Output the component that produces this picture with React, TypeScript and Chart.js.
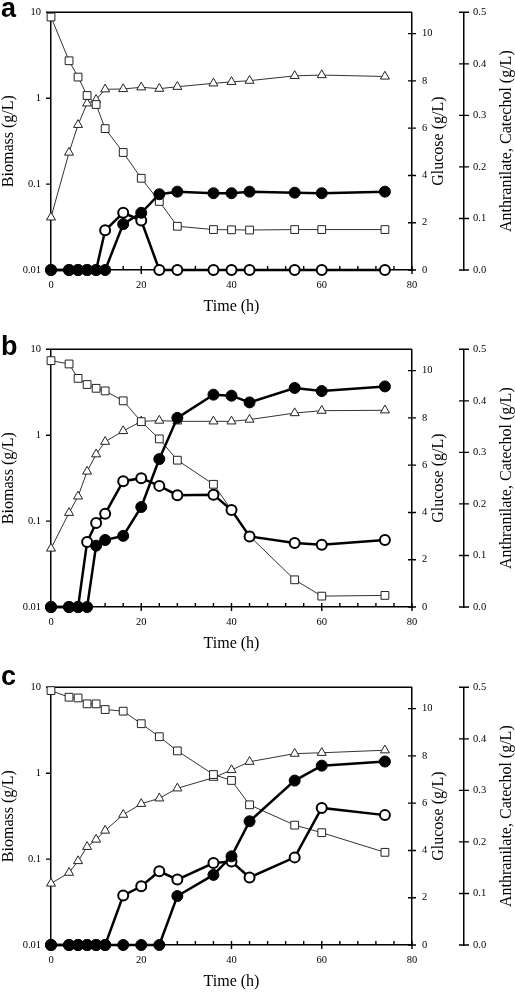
import React, { useEffect, useRef } from "react";
import { Chart, registerables } from "chart.js";

Chart.register(...registerables);

// ---------- data ----------
const timeHours = [0, 4, 6, 8, 10, 12, 16, 20, 24, 28, 36, 40, 44, 54, 60, 74];

// panel a
const biomassA = [0.041, 0.233, 0.49, 0.87, 0.96, 1.27, 1.28, 1.34, 1.29, 1.36, 1.49, 1.55, 1.6, 1.82, 1.86, 1.79];
const glucoseA = [10.7, 8.85, 8.16, 7.38, 7.0, 5.98, 4.97, 3.88, 2.9, 1.85, 1.71, 1.7, 1.69, 1.71, 1.71, 1.71];
const anthranilateA = [0, 0, 0, 0, 0, 0, 0.089, 0.111, 0.147, 0.152, 0.149, 0.149, 0.152, 0.15, 0.149, 0.152];
const catecholA = [0, 0, 0, 0, 0, 0.077, 0.111, 0.096, 0, 0, 0, 0, 0, 0, 0, 0];

// panel b
const biomassB = [0.048, 0.125, 0.194, 0.378, 0.6, 0.84, 1.12, 1.45, 1.48, 1.45, 1.45, 1.45, 1.52, 1.81, 1.93, 1.95];
const glucoseB = [10.42, 10.28, 9.67, 9.41, 9.25, 9.14, 8.72, 7.84, 7.11, 6.21, 5.19, 4.1, 3.0, 1.15, 0.46, 0.49];
const anthranilateB = [0, 0, 0, 0, 0.119, 0.13, 0.138, 0.194, 0.287, 0.367, 0.412, 0.41, 0.397, 0.425, 0.419, 0.428];
const catecholB = [0, 0, 0, 0.126, 0.163, 0.181, 0.244, 0.25, 0.235, 0.217, 0.218, 0.188, 0.137, 0.124, 0.121, 0.13];

// panel c
const biomassC = [0.052, 0.0695, 0.095, 0.139, 0.169, 0.215, 0.329, 0.44, 0.51, 0.667, 0.887, 1.09, 1.36, 1.69, 1.73, 1.85];
const glucoseC = [10.76, 10.48, 10.45, 10.2, 10.2, 9.96, 9.89, 9.36, 8.81, 8.21, 7.21, 6.96, 5.93, 5.07, 4.75, 3.92];
const anthranilateC = [0, 0, 0, 0, 0, 0, 0, 0, 0, 0.095, 0.136, 0.172, 0.24, 0.319, 0.348, 0.356];
const catecholC = [0, 0, 0, 0, 0, 0, 0.096, 0.114, 0.143, 0.127, 0.159, 0.162, 0.131, 0.17, 0.266, 0.252];

const biomassTicks = [0.01, 0.1, 1, 10];
const panelLetters = ["a", "b", "c"];

const SERIF = "'Liberation Serif', 'Times New Roman', serif";

// ---------- helpers ----------
function pts(arr: number[]) {
  return timeHours.map((t, i) => ({ x: t, y: arr[i] }));
}

function makeDatasets(bio: number[], glu: number[], anth: number[], cat: number[]) {
  return [
    {
      label: "Anthranilate",
      data: pts(anth),
      yAxisID: "yA",
      order: 0,
      borderColor: "#000",
      backgroundColor: "#000",
      borderWidth: 2.5,
      pointStyle: "circle",
      pointRadius: 5.5,
      pointBorderWidth: 1,
      pointBackgroundColor: "#000",
      pointBorderColor: "#000",
      clip: false,
    },
    {
      label: "Catechol",
      data: pts(cat),
      yAxisID: "yA",
      order: 1,
      borderColor: "#000",
      backgroundColor: "#fff",
      borderWidth: 2.5,
      pointStyle: "circle",
      pointRadius: 5,
      pointBorderWidth: 2,
      pointBackgroundColor: "#fff",
      pointBorderColor: "#000",
      clip: false,
    },
    {
      label: "Glucose",
      data: pts(glu),
      yAxisID: "yG",
      order: 2,
      borderColor: "#333",
      backgroundColor: "#fff",
      borderWidth: 1,
      pointStyle: "rect",
      pointRadius: 5.5,
      pointBorderWidth: 1,
      pointBackgroundColor: "#fff",
      pointBorderColor: "#222",
      clip: false,
    },
    {
      label: "Biomass",
      data: pts(bio),
      yAxisID: "yB",
      order: 3,
      borderColor: "#333",
      backgroundColor: "#fff",
      borderWidth: 1,
      pointStyle: "triangle",
      pointRadius: 5.2,
      pointBorderWidth: 1,
      pointBackgroundColor: "#fff",
      pointBorderColor: "#222",
      clip: false,
    },
  ];
}

const decorPlugin = {
  id: "decor",
  beforeDatasetsDraw(chart: any) {
    const { ctx, chartArea: ca, scales } = chart;
    const x = scales.x, yB = scales.yB, yG = scales.yG, yA = scales.yA;
    ctx.save();
    ctx.strokeStyle = "#000";
    ctx.lineWidth = 1.4;
    ctx.beginPath();
    ctx.moveTo(ca.left, ca.top);
    ctx.lineTo(ca.right, ca.top);
    x.ticks.forEach((t: any) => {
      const px = x.getPixelForValue(t.value);
      if (Math.round(t.value) % 20 === 0) {
        ctx.moveTo(px, ca.bottom - 4);
        ctx.lineTo(px, ca.bottom + 4);
      } else {
        ctx.moveTo(px, ca.bottom - 4);
        ctx.lineTo(px, ca.bottom);
      }
    });
    yB.ticks.forEach((t: any) => {
      const py = yB.getPixelForValue(t.value);
      ctx.moveTo(ca.left - 5, py);
      ctx.lineTo(ca.left, py);
    });
    yG.ticks.forEach((t: any) => {
      const py = yG.getPixelForValue(t.value);
      ctx.moveTo(yG.left - 4, py);
      ctx.lineTo(yG.left + 4, py);
    });
    yA.ticks.forEach((t: any) => {
      const py = yA.getPixelForValue(t.value);
      ctx.moveTo(yA.left - 5, py);
      ctx.lineTo(yA.left + 5, py);
    });
    ctx.stroke();
    ctx.restore();
  },
  afterDraw(chart: any) {
    const { ctx, chartArea: ca, scales } = chart;
    const yB = scales.yB, yG = scales.yG, yA = scales.yA;
    ctx.save();
    ctx.fillStyle = "#000";
    ctx.font = `16px ${SERIF}`;
    ctx.textAlign = "center";
    ctx.textBaseline = "middle";
    const midY = (ca.top + ca.bottom) / 2;
    const vtitle = (text: string, cx: number) => {
      ctx.save();
      ctx.translate(cx, midY);
      ctx.rotate(-Math.PI / 2);
      ctx.fillText(text, 0, 0);
      ctx.restore();
    };
    vtitle("Biomass (g/L)", yB.left + 9);
    vtitle("Glucose (g/L)", yG.left + 27);
    vtitle("Anthranilate, Catechol (g/L)", yA.left + 43);
    ctx.fillText("Time (h)", (ca.left + ca.right) / 2, ca.bottom + 37);
    ctx.restore();
  },
};

const tickFont = { family: SERIF, size: 10.5 };
const hiddenGrid = {
  display: true,
  drawOnChartArea: false,
  drawTicks: true,
  tickLength: 4,
  color: "rgba(0,0,0,0)",
  tickColor: "rgba(0,0,0,0)",
};
const axisBorder = { display: true, color: "#000", width: 1.5 };

function Panel(props: { top: number; bio: number[]; glu: number[]; anth: number[]; cat: number[] }) {
  const ref = useRef<HTMLCanvasElement>(null);
  useEffect(() => {
    const chart = new Chart(ref.current as HTMLCanvasElement, {
      type: "line",
      data: { datasets: makeDatasets(props.bio, props.glu, props.anth, props.cat) as any },
      options: {
        responsive: false,
        animation: false,
        devicePixelRatio: 1,
        layout: { padding: { top: 10, left: 0, right: 0, bottom: 0 } },
        plugins: { legend: { display: false }, tooltip: { enabled: false } },
        elements: { line: { tension: 0 } },
        scales: {
          x: {
            type: "linear",
            position: "bottom",
            min: 0,
            max: 80,
            ticks: {
              stepSize: 4,
              autoSkip: false,
              maxRotation: 0,
              padding: 5,
              color: "#000",
              font: tickFont,
              callback: (v: any) => (Math.round(Number(v)) % 20 === 0 ? String(v) : ""),
            },
            grid: hiddenGrid,
            border: axisBorder,
            afterFit: (s: any) => {
              s.height = 47;
            },
          },
          yB: {
            type: "logarithmic",
            position: "left",
            min: 0.01,
            max: 10,
            afterBuildTicks: (s: any) => {
              s.ticks = biomassTicks.map((v) => ({ value: v }));
            },
            ticks: {
              autoSkip: false,
              padding: 6,
              color: "#000",
              font: tickFont,
              callback: (v: any) => String(v),
            },
            grid: hiddenGrid,
            border: axisBorder,
            afterFit: (s: any) => {
              s.width = 51;
            },
          },
          yG: {
            type: "linear",
            position: "right",
            weight: 1,
            min: 0,
            max: 10.9,
            ticks: {
              stepSize: 2,
              includeBounds: false,
              autoSkip: false,
              padding: 6,
              color: "#000",
              font: tickFont,
              callback: (v: any) => String(v),
            },
            grid: hiddenGrid,
            border: axisBorder,
            afterFit: (s: any) => {
              s.width = 52;
            },
          },
          yA: {
            type: "linear",
            position: "right",
            weight: 2,
            min: 0,
            max: 0.5,
            ticks: {
              stepSize: 0.1,
              autoSkip: false,
              padding: 5,
              color: "#000",
              font: tickFont,
              callback: (v: any) => Number(v).toFixed(1),
            },
            grid: hiddenGrid,
            border: axisBorder,
            afterFit: (s: any) => {
              s.width = 51;
            },
          },
        },
      } as any,
      plugins: [decorPlugin],
    });
    return () => chart.destroy();
  }, []);
  return (
    <canvas
      ref={ref}
      width={515}
      height={317}
      style={{ position: "absolute", left: 0, top: props.top, width: 515, height: 317 }}
    />
  );
}

const panelTops = [0, 337, 675];
const letterTops = [-5, 333, 663];

export default function App() {
  return (
    <div style={{ position: "absolute", left: 0, top: 0, width: 515, height: 992, background: "#fff", overflow: "hidden" }}>
      <Panel top={panelTops[0]} bio={biomassA} glu={glucoseA} anth={anthranilateA} cat={catecholA} />
      <Panel top={panelTops[1]} bio={biomassB} glu={glucoseB} anth={anthranilateB} cat={catecholB} />
      <Panel top={panelTops[2]} bio={biomassC} glu={glucoseC} anth={anthranilateC} cat={catecholC} />
      {panelLetters.map((l, i) => (
        <div
          key={l}
          style={{
            position: "absolute",
            left: 1,
            top: letterTops[i],
            font: "bold 27px 'Liberation Sans', Arial, sans-serif",
            lineHeight: "26px",
            color: "#000",
          }}
        >
          {l}
        </div>
      ))}
    </div>
  );
}
